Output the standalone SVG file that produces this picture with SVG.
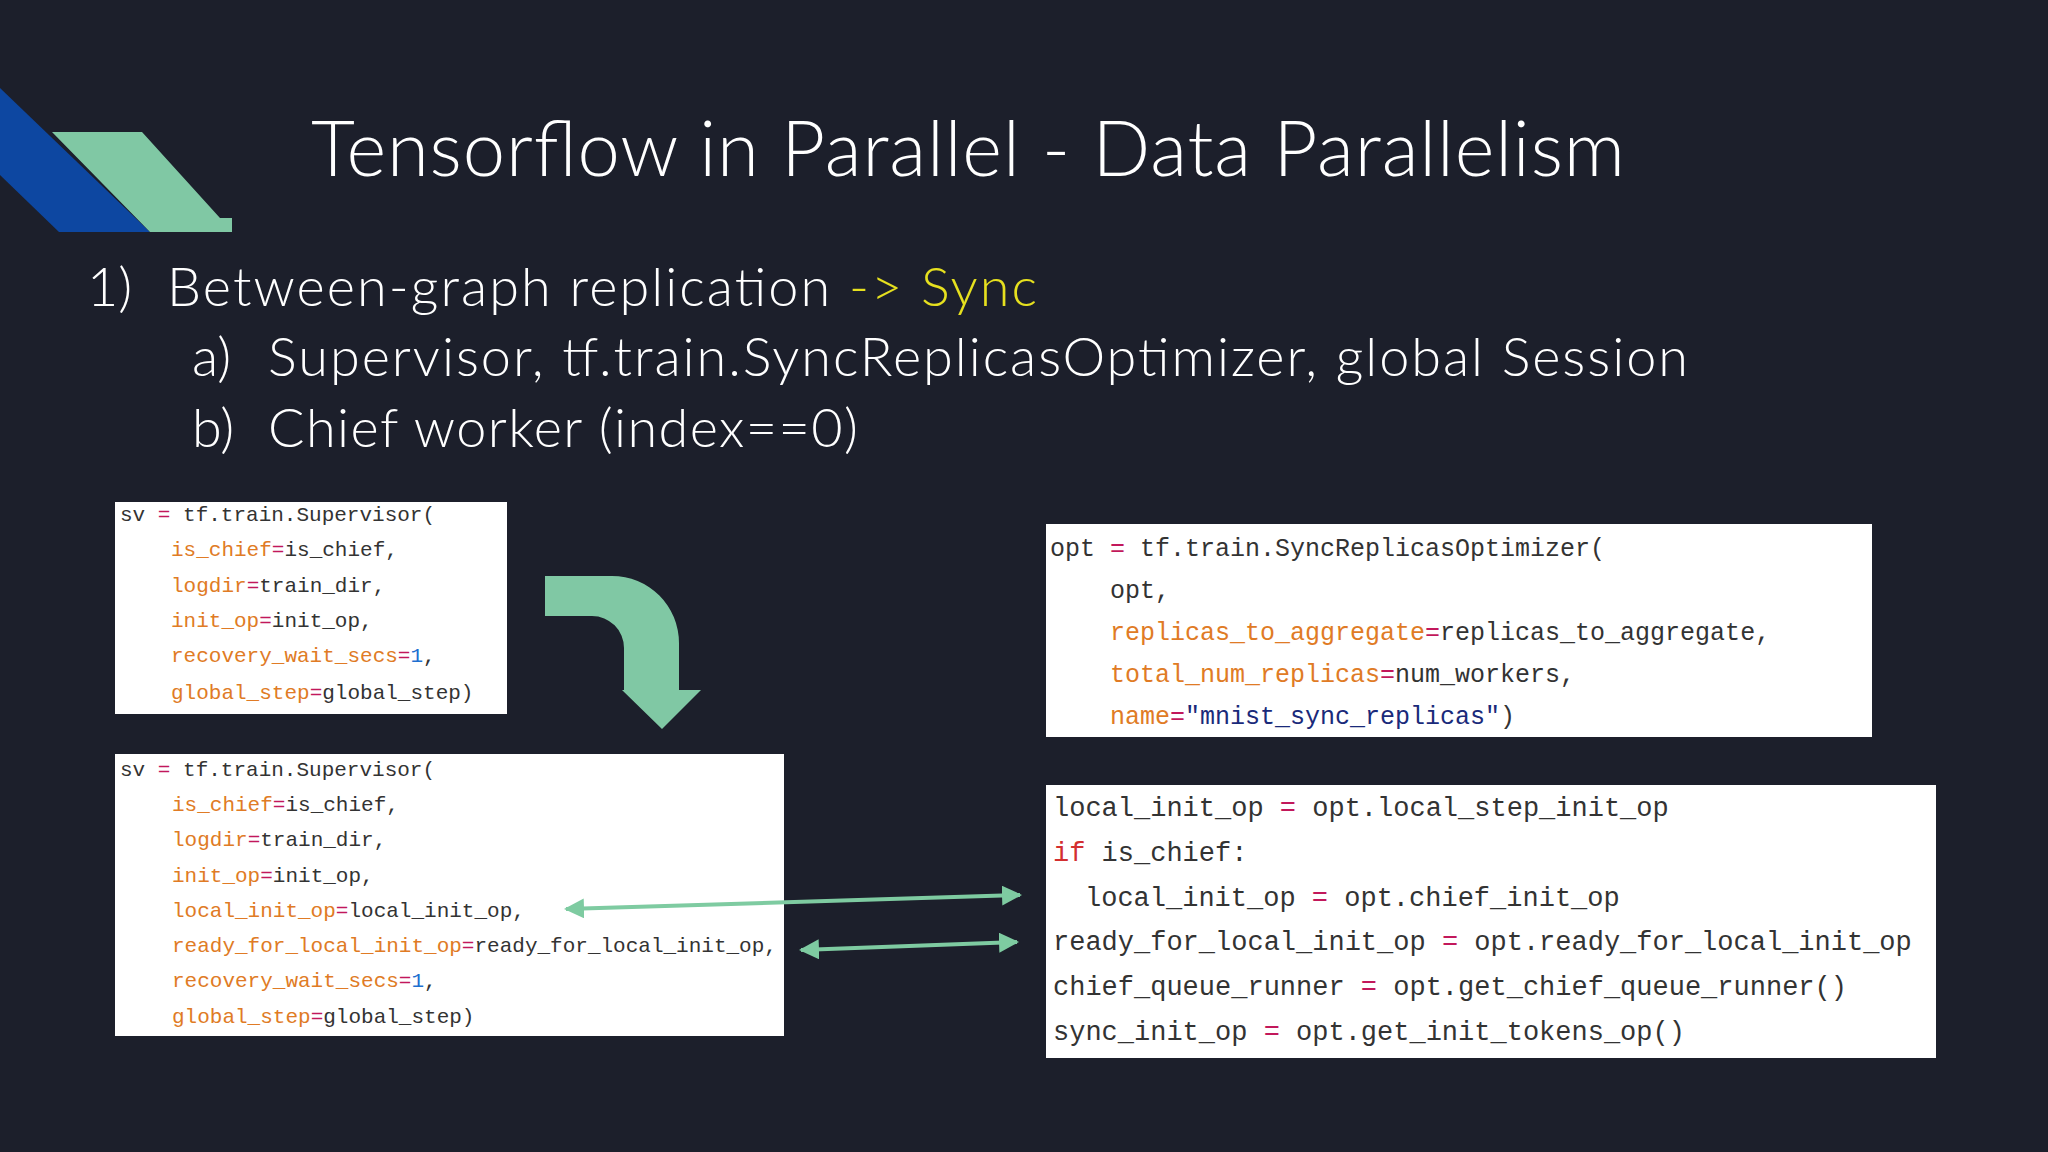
<svg xmlns="http://www.w3.org/2000/svg" width="2048" height="1152" viewBox="0 0 2048 1152">
<style>
.h{font-family:Lato,"Open Sans",sans-serif;font-weight:300;fill:#ffffff}
.c{font-family:"Liberation Mono","DejaVu Sans Mono",monospace;fill:#333}
.k{fill:#e07b25}.o{fill:#c2185b}.n{fill:#1e6fd0}.s{fill:#1a2a7a}.r{fill:#d32f2f}
.box{fill:#ffffff}
.con{stroke:#7ecba1;stroke-width:4;fill:none;marker-start:url(#a);marker-end:url(#a)}
</style>
<defs>
<marker id="a" viewBox="0 0 10 10" refX="9" refY="5" markerWidth="5" markerHeight="5" orient="auto-start-reverse"><path d="M0,0L10,5L0,10z" fill="#7ecba1"/></marker>
</defs>
<rect width="2048" height="1152" fill="#1c1f2b"/>
<g id="logo">
<polygon points="0,88 150,232 59,232 0,175" fill="#0d47a1"/>
<polygon points="52,132 142,132 220,218 232,218 232,232 150,232" fill="#80c8a4"/>
</g>
<g id="title"><text class="h" x="311" y="176" font-size="76" textLength="1314">Tensorflow in Parallel - Data Parallelism</text></g>
<g id="bullets">
<text class="h" x="87" y="306" font-size="54">1)</text>
<text class="h" x="167" y="306" font-size="54" textLength="870">Between-graph replication <tspan fill="#e6e01f">-&gt; Sync</tspan></text>
<text class="h" x="192" y="376" font-size="54">a)</text>
<text class="h" x="268" y="376" font-size="54" textLength="1420">Supervisor, tf.train.SyncReplicasOptimizer, global Session</text>
<text class="h" x="192" y="447" font-size="54">b)</text>
<text class="h" x="268" y="447" font-size="54" textLength="590">Chief worker (index==0)</text>
</g>
<g id="code1">
<rect class="box" x="115" y="502" width="392" height="212"/>
<g class="c" font-size="21">
<text x="120" y="521">sv <tspan class="o">=</tspan> tf.train.Supervisor(</text>
<text x="171" y="556"><tspan class="k">is_chief</tspan><tspan class="o">=</tspan>is_chief,</text>
<text x="171" y="592"><tspan class="k">logdir</tspan><tspan class="o">=</tspan>train_dir,</text>
<text x="171" y="627"><tspan class="k">init_op</tspan><tspan class="o">=</tspan>init_op,</text>
<text x="171" y="662"><tspan class="k">recovery_wait_secs</tspan><tspan class="o">=</tspan><tspan class="n">1</tspan>,</text>
<text x="171" y="699"><tspan class="k">global_step</tspan><tspan class="o">=</tspan>global_step)</text>
</g></g>
<g id="bend-arrow">
<path d="M545,576 H612 A67,67 0 0 1 679,643 V690 H701 L662,729 L622,690 H624 V648 A32,32 0 0 0 592,616 H545 Z" fill="#80c8a4"/>
</g>
<g id="code2">
<rect class="box" x="115" y="754" width="669" height="282"/>
<g class="c" font-size="21">
<text x="120" y="776">sv <tspan class="o">=</tspan> tf.train.Supervisor(</text>
<text x="172" y="811"><tspan class="k">is_chief</tspan><tspan class="o">=</tspan>is_chief,</text>
<text x="172" y="846"><tspan class="k">logdir</tspan><tspan class="o">=</tspan>train_dir,</text>
<text x="172" y="882"><tspan class="k">init_op</tspan><tspan class="o">=</tspan>init_op,</text>
<text x="172" y="917"><tspan class="k">local_init_op</tspan><tspan class="o">=</tspan>local_init_op,</text>
<text x="172" y="952"><tspan class="k">ready_for_local_init_op</tspan><tspan class="o">=</tspan>ready_for_local_init_op,</text>
<text x="172" y="987"><tspan class="k">recovery_wait_secs</tspan><tspan class="o">=</tspan><tspan class="n">1</tspan>,</text>
<text x="172" y="1023"><tspan class="k">global_step</tspan><tspan class="o">=</tspan>global_step)</text>
</g></g>
<g id="code3">
<rect class="box" x="1046" y="524" width="826" height="213"/>
<g class="c" font-size="25">
<text x="1050" y="556">opt <tspan class="o">=</tspan> tf.train.SyncReplicasOptimizer(</text>
<text x="1110" y="598">opt,</text>
<text x="1110" y="640"><tspan class="k">replicas_to_aggregate</tspan><tspan class="o">=</tspan>replicas_to_aggregate,</text>
<text x="1110" y="682"><tspan class="k">total_num_replicas</tspan><tspan class="o">=</tspan>num_workers,</text>
<text x="1110" y="724"><tspan class="k">name</tspan><tspan class="o">=</tspan><tspan class="s">"mnist_sync_replicas"</tspan>)</text>
</g></g>
<g id="code4">
<rect class="box" x="1046" y="785" width="890" height="273"/>
<g class="c" font-size="27">
<text x="1053" y="816">local_init_op <tspan class="o">=</tspan> opt.local_step_init_op</text>
<text x="1053" y="861"><tspan class="r">if</tspan> is_chief:</text>
<text x="1085" y="906">local_init_op <tspan class="o">=</tspan> opt.chief_init_op</text>
<text x="1053" y="950">ready_for_local_init_op <tspan class="o">=</tspan> opt.ready_for_local_init_op</text>
<text x="1053" y="995">chief_queue_runner <tspan class="o">=</tspan> opt.get_chief_queue_runner()</text>
<text x="1053" y="1040">sync_init_op <tspan class="o">=</tspan> opt.get_init_tokens_op()</text>
</g></g>
<g id="connectors">
<line class="con" x1="566" y1="909" x2="1020" y2="895"/>
<line class="con" x1="801" y1="950" x2="1017" y2="942"/>
</g>
</svg>
